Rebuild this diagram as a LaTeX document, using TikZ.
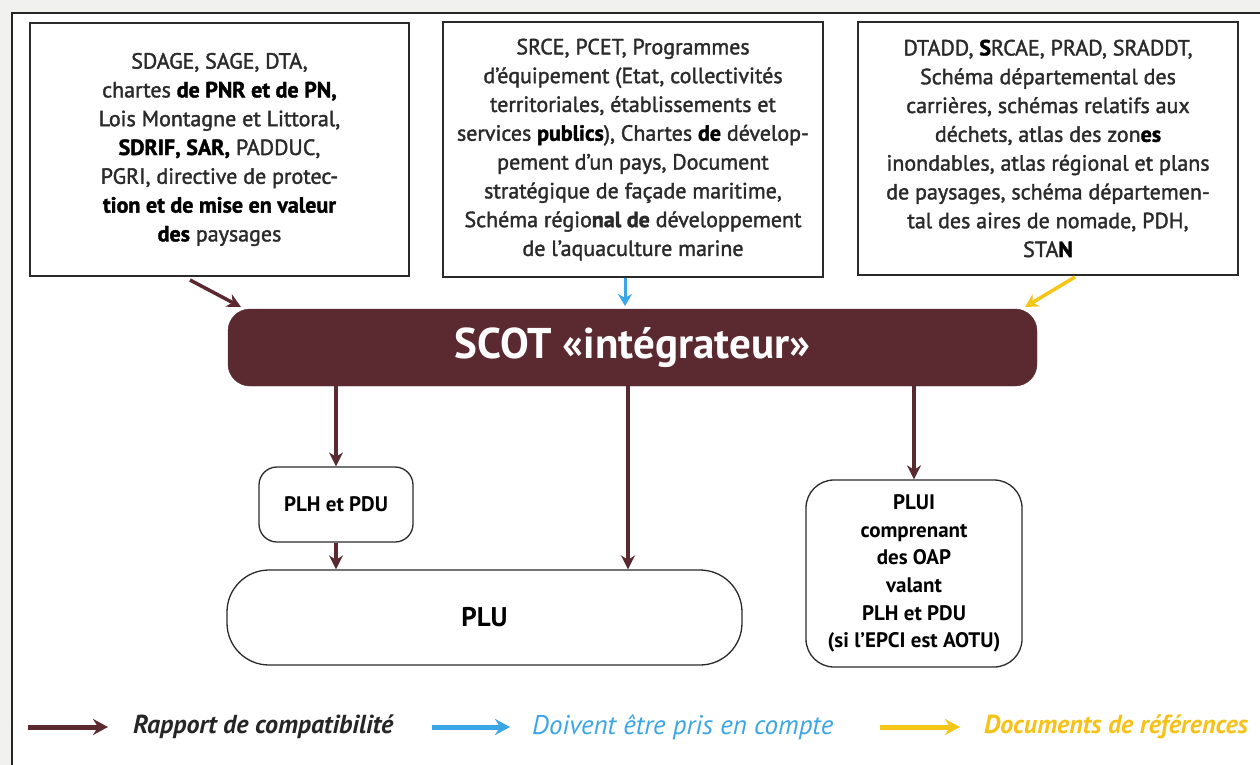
\documentclass[tikz,border=0pt]{standalone}
\usepackage{fontspec}
\setmainfont{PT Sans}
\newfontfamily\medfont{PT Sans}[FakeBold=1.6]
\usetikzlibrary{arrows.meta}
\definecolor{scotred}{HTML}{5B2A30}
\definecolor{refblue}{HTML}{3AA6E8}
\definecolor{refyellow}{HTML}{F5C518}
\definecolor{txtgray}{HTML}{2A2A2A}
\definecolor{bgout}{HTML}{F1F2F0}
\newcommand{\bk}[1]{{\bfseries\color{black}#1}}
\begin{document}
\begin{tikzpicture}[x=1pt,y=-1pt,
  srcbox/.style={draw=txtgray, line width=1.3pt, fill=white, align=center, inner sep=0pt,
     text=txtgray, font=\medfont\fontsize{22}{28.8}\selectfont},
  lowbox/.style={draw=txtgray, line width=1.3pt, fill=white, align=center, inner sep=0pt,
     text=black, font=\bfseries\fontsize{21}{27.6}\selectfont},
  comp/.style={draw=scotred, line width=3.5pt, -{Stealth[length=14pt,width=14pt]}},
  legarrow/.style={line width=5pt, -{Stealth[length=15pt,width=16pt,inset=5pt]}}]
\useasboundingbox (0,0) rectangle (1260,765);
\fill[bgout] (0,0) rectangle (1260,765);
\fill[white] (12,13) rectangle (1260,765);
\draw[line width=2pt, black!85] (12,765) -- (12,13) -- (1260,13);

\node[srcbox, minimum width=379pt, minimum height=253pt] (box1) at (219.5,149.5)
 {SDAGE, SAGE, DTA,\\
  chartes \bk{de PNR et de PN,}\\
  Lois Montagne et Littoral,\\
  \bk{SDRIF, SAR,} PADDUC,\\
  PGRI, directive de protec-\\
  \bk{tion et de mise en valeur}\\
  \bk{des} paysages};

\node[srcbox, minimum width=380pt, minimum height=255pt] (box2) at (633,149.5)
 {SRCE, PCET, Programmes\\
  d’équipement (Etat, collectivités\\
  territoriales, établissements et\\
  services \bk{publics}), Chartes \bk{de} dévelop-\\
  pement d’un pays, Document\\
  stratégique de façade maritime,\\
  Schéma régio{\bfseries nal de} développement\\
  de l’aquaculture marine};

\node[srcbox, minimum width=380pt, minimum height=253pt] (box3) at (1048,148.5)
 {DTADD, \bk{S}RCAE, PRAD, SRADDT,\\
  Schéma départemental des\\
  carrières, schémas relatifs aux\\
  déchets, atlas des zon\bk{es}\\
  inondables, atlas régional et plans\\
  de paysages, schéma départemen-\\
  tal des aires de nomade, PDH,\\
  STA\bk{N}};

\node[fill=scotred, draw=scotred, rounded corners=22pt, minimum width=809pt, minimum height=77pt,
      text=white, font=\bfseries\fontsize{43}{46}\selectfont] (scot) at (632.5,347.5)
 {SCOT «intégrateur»};

\node[lowbox, rounded corners=18pt, minimum width=154pt, minimum height=75pt] (plh) at (336,504.5)
 {PLH et PDU};
\node[lowbox, rounded corners=42pt, minimum width=515pt, minimum height=95pt, font=\bfseries\fontsize{27}{30}\selectfont] (plu) at (484.5,617.5)
 {PLU};
\node[lowbox, rounded corners=28pt, minimum width=216pt, minimum height=187pt] (plui) at (914,573.5)
 {PLUI\\ comprenant\\ des OAP\\ valant\\ PLH et PDU\\ (si l’EPCI est AOTU)};

% incoming arrows
\coordinate (m1) at (190,280);
\coordinate (m2) at (241,307);
\coordinate (c1) at (625,278);
\coordinate (c2) at (625,306);
\coordinate (y1) at (1075,277);
\coordinate (y2) at (1025,307);
\draw[comp] (m1) -- (m2);
\draw[draw=refblue, line width=3pt, -{Stealth[length=12pt,width=14pt]}] (c1) -- (c2);
\draw[draw=refyellow, line width=3.5pt, -{Stealth[length=13pt,width=14pt]}] (y1) -- (y2);

% outgoing arrows
\draw[comp] (scot.south -| plh.north) -- (plh.north);
\draw[comp] (plh.south) -- (plh.south |- plu.north);
\draw[comp] (628,386) coordinate (s2) -- (s2 |- plu.north);
\draw[comp] (scot.south -| plui.north) -- (plui.north);

% legend
\coordinate (l1a) at (28,727); \coordinate (l1b) at (108,727);
\coordinate (l2a) at (432,727); \coordinate (l2b) at (510,727);
\coordinate (l3a) at (880,727); \coordinate (l3b) at (960,727);
\draw[legarrow, draw=scotred] (l1a) -- (l1b);
\draw[legarrow, draw=refblue] (l2a) -- (l2b);
\draw[legarrow, draw=refyellow] (l3a) -- (l3b);
\node[anchor=west, inner sep=0pt, text=black!85, font=\bfseries\itshape\fontsize{26}{28}\selectfont] (t1) at (133,727) {Rapport de compatibilité};
\node[anchor=west, inner sep=0pt, text=refblue, font=\itshape\fontsize{27}{28}\selectfont] (t2) at (532,727) {Doivent être pris en compte};
\node[anchor=west, inner sep=0pt, text=refyellow!95!orange, font=\bfseries\itshape\fontsize{26}{28}\selectfont] (t3) at (984,727) {Documents de références};
\end{tikzpicture}
\end{document}
